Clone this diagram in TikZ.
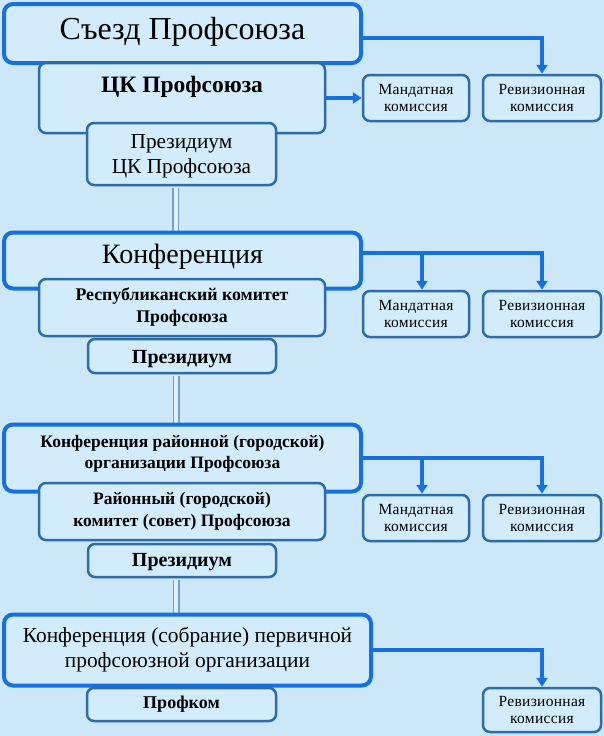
\documentclass[tikz,border=0pt]{standalone}
\usepackage{fontspec}
\setmainfont{Liberation Serif}
\newfontfamily\comfont{Liberation Serif}[LetterSpace=2]
\usetikzlibrary{arrows.meta}

\definecolor{fond}{RGB}{204,232,248}
\definecolor{boite}{RGB}{210,236,251}
\definecolor{bleu}{RGB}{22,112,222}
\definecolor{acier}{RGB}{44,108,168}
\definecolor{trait}{RGB}{120,155,210}

\begin{document}
\begin{tikzpicture}[x=1pt, y=-1pt,
  organe/.style={draw=bleu, line width=4pt, rounded corners=9pt, fill=boite, inner sep=0pt, align=center},
  comite/.style={draw=acier, line width=2.5pt, rounded corners=7pt, fill=boite, inner sep=0pt, align=center},
  commission/.style={comite, font=\comfont\fontsize{15.5}{17.5}\selectfont, minimum width=106pt, minimum height=46pt},
  fleche/.style={draw=bleu, line width=3.5pt, -{Triangle[length=9pt,width=11pt]}},
  lien/.style={draw=trait, double=fond!60!white, line width=1.5pt, double distance=4pt, shorten <=1.5pt, shorten >=2pt}]

 %%%%%%%%%% Fond %%%%%%%%%%
 \useasboundingbox (0,0) rectangle (604,736);
 \fill [fond] (0,0) rectangle (604,736);

 %%%%%%%%%% Niveau 1 : Syezd %%%%%%%%%%
 \node [organe, minimum width=357pt, minimum height=59pt, font=\fontsize{32}{38}\selectfont, text depth=11pt] (s1) at (182.5,33.5) {Съезд Профсоюза};
 \node [comite, minimum width=286pt, minimum height=70pt, font=\bfseries\fontsize{23.5}{28}\selectfont, text height=15pt, text depth=27pt] (ck) at (182,98) {ЦК Профсоюза};
 \node [comite, minimum width=189pt, minimum height=62pt, font=\fontsize{21.3}{25}\selectfont, text height=42.6pt] (pr1) at (181.5,154) {Президиум\\ЦК Профсоюза};
 \node [commission] (m1) at (416,98) {Мандатная\\комиссия};
 \node [commission, minimum width=118pt] (r1) at (542,98) {Ревизионная\\комиссия};

 \draw [fleche] ([yshift=-4.5pt]s1.east) -| (r1.north);
 \draw [fleche] (ck.east) -- (m1.west);

 %%%%%%%%%% Niveau 2 : Konferentsiya %%%%%%%%%%
 \draw [lien] ([xshift=-6pt]pr1.south) -- ([xshift=-6pt]pr1.south |- 0,233);
 \node [organe, minimum width=357pt, minimum height=56pt, font=\fontsize{28}{34}\selectfont, text height=19pt, text depth=14pt] (k2) at (182.5,260.5) {Конференция};
 \node [comite, minimum width=286pt, minimum height=57pt, font=\bfseries\fontsize{17.8}{22}\selectfont] (rk2) at (182,307.5) {Республиканский комитет\\Профсоюза};
 \node [comite, minimum width=188pt, minimum height=34pt, font=\bfseries\fontsize{20}{24}\selectfont, text height=20pt] (pr2) at (182,356) {Президиум};
 \node [commission] (m2) at (416,314) {Мандатная\\комиссия};
 \node [commission, minimum width=118pt] (r2) at (542,314) {Ревизионная\\комиссия};

 \coordinate (b2) at ([yshift=7.5pt]k2.east);
 \coordinate (b2m) at ([xshift=6pt]m2.north);
 \draw [fleche] (b2) -| (r2.north);
 \draw [fleche] (b2 -| b2m) -- (b2m);

 %%%%%%%%%% Niveau 3 : raion %%%%%%%%%%
 \draw [lien] ([xshift=-6pt]pr2.south) -- ([xshift=-6pt]pr2.south |- 0,425);
 \node [organe, minimum width=357pt, minimum height=67pt, font=\bfseries\fontsize{17.5}{21}\selectfont, text depth=13pt] (k3) at (182.5,458) {Конференция районной (городской)\\организации Профсоюза};
 \node [comite, minimum width=286pt, minimum height=57pt, font=\bfseries\fontsize{17.5}{22}\selectfont] (rk3) at (182,511.5) {Районный (городской)\\комитет (совет) Профсоюза};
 \node [comite, minimum width=188pt, minimum height=33pt, font=\bfseries\fontsize{20}{24}\selectfont, text height=17pt] (pr3) at (182,560.5) {Президиум};
 \node [commission] (m3) at (416,518) {Мандатная\\комиссия};
 \node [commission, minimum width=118pt] (r3) at (542,518) {Ревизионная\\комиссия};

 \coordinate (b3m) at ([xshift=6pt]m3.north);
 \draw [fleche] (k3.east) -| (r3.north);
 \draw [fleche] (k3.east -| b3m) -- (b3m);

 %%%%%%%%%% Niveau 4 : organisation primaire %%%%%%%%%%
 \draw [lien] ([xshift=-6pt]pr3.south) -- ([xshift=-6pt]pr3.south |- 0,615);
 \node [organe, minimum width=367pt, minimum height=71pt, font=\fontsize{21.4}{25}\selectfont] (k4) at (187.5,650) {Конференция (собрание) первичной\\профсоюзной организации};
 \node [comite, minimum width=189pt, minimum height=33pt, font=\bfseries\fontsize{18}{22}\selectfont] (pf) at (181.5,704.5) {Профком};
 \node [commission, minimum width=118pt, minimum height=44pt] (r4) at (542,710) {Ревизионная\\комиссия};

 \draw [fleche] (k4.east) -| (r4.north);

\end{tikzpicture}
\end{document}
